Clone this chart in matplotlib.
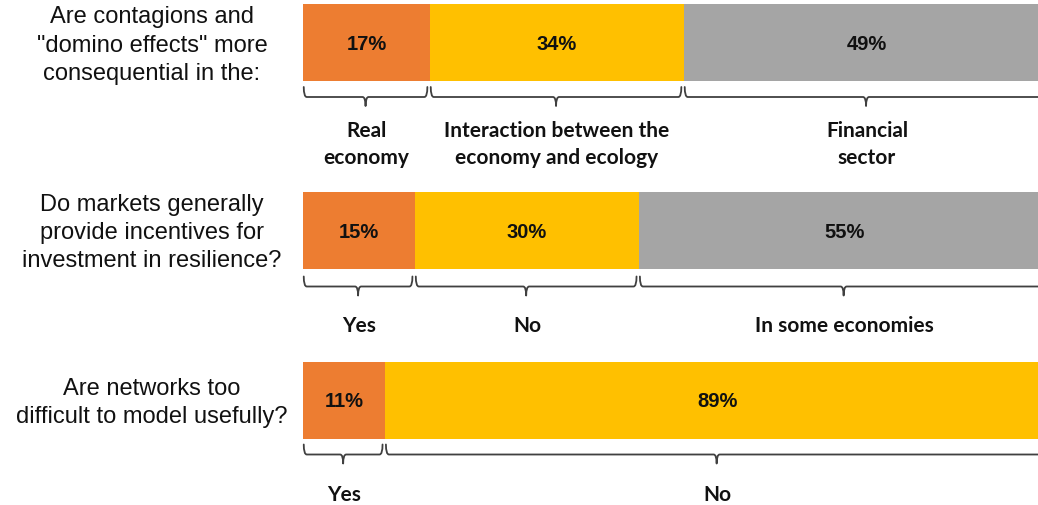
import matplotlib
matplotlib.use("Agg")
import matplotlib.pyplot as plt
from matplotlib.path import Path
from matplotlib.patches import PathPatch

questions = [
    'Are contagions and\n"domino effects" more\nconsequential in the:',
    "Do markets generally\nprovide incentives for\ninvestment in resilience?",
    "Are networks too\ndifficult to model usefully?",
]
values = [
    [17, 34, 49],
    [15, 30, 55],
    [11, 89],
]
answer_labels = [
    ["Real\neconomy", "Interaction between the\neconomy and ecology", "Financial\nsector"],
    ["Yes", "No", "In some economies"],
    ["Yes", "No"],
]
colors = ["#ED7D31", "#FFC000", "#A5A5A5"]

W, H = 1038, 506
fig = plt.figure(figsize=(W / 100, H / 100), dpi=100)
ax = fig.add_axes([0, 0, 1, 1])
px = 7.47  # pixels per percent
x0 = 303
ax.set_xlim(-x0 / px, (W - x0) / px)
ax.set_ylim(H, 0)
ax.axis("off")

bar_center = [43.5, 231, 401]
bar_h = 77
brace_top_off = [6, 8, 6]
label_y = [144.5, 326, 495]
line_col = "#404040"


def brace(a, b, ytop, ymid, ybot):
    r = 3 / px
    xc = (a + b) / 2
    verts = [
        (a, ytop), (a, ymid), (a + r, ymid),
        (xc - r, ymid), (xc, ymid), (xc, ybot),
        (xc, ymid), (xc + r, ymid),
        (b - r, ymid), (b, ymid), (b, ytop),
    ]
    codes = [Path.MOVETO, Path.CURVE3, Path.CURVE3,
             Path.LINETO, Path.CURVE3, Path.CURVE3,
             Path.CURVE3, Path.CURVE3,
             Path.LINETO, Path.CURVE3, Path.CURVE3]
    ax.add_patch(PathPatch(Path(verts, codes), fill=False, ec=line_col, lw=1.3,
                           capstyle="round", joinstyle="round"))


for i, (q, vals, labs) in enumerate(zip(questions, values, answer_labels)):
    yc = bar_center[i]
    left = 0
    for j, v in enumerate(vals):
        ax.barh(yc, v, left=left, height=bar_h, color=colors[j], linewidth=0)
        ax.text(left + v / 2, yc + 1, f"{v}%", ha="center", va="center",
                fontsize=14.5, fontweight="bold", family="Liberation Sans", color="#111111")
        a = left + 0.1
        b = left + v - 0.35
        ytop = yc + bar_h / 2 + brace_top_off[i]
        brace(a, b, ytop, ytop + 10, ytop + 19)
        ax.text(left + v / 2, label_y[i], labs[j], ha="center", va="center",
                fontsize=15, fontweight="bold", family="Lato", color="#111111",
                linespacing=1.45)
        left += v
    ax.text(-x0 / px + 152 / px, yc + 2, q, ha="center", va="center",
            fontsize=17, family="Liberation Sans", color="#111111", linespacing=1.36)

fig.savefig("out.png", dpi=100)
